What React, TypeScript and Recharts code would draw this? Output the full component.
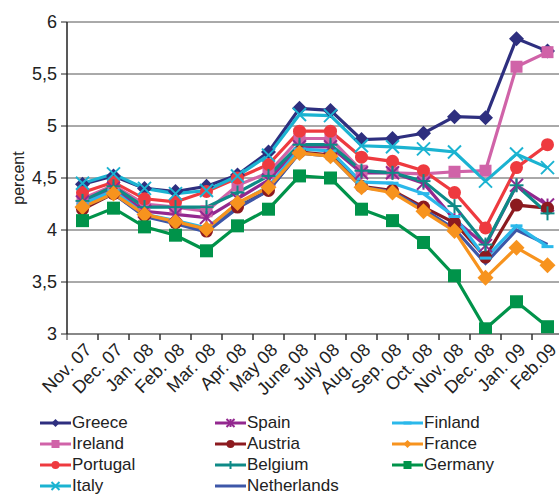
import React from 'react';
import { LineChart, Line, XAxis, YAxis, CartesianGrid } from 'recharts';

const months = [
  'Nov. 07', 'Dec. 07', 'Jan. 08', 'Feb. 08', 'Mar. 08', 'Apr. 08', 'May 08', 'June 08',
  'July 08', 'Aug. 08', 'Sep. 08', 'Oct. 08', 'Nov. 08', 'Dec. 08', 'Jan. 09', 'Feb.09',
];

const greece = [4.44, 4.52, 4.40, 4.37, 4.42, 4.53, 4.75, 5.17, 5.15, 4.87, 4.88, 4.93, 5.09, 5.08, 5.84, 5.72];
const ireland = [4.30, 4.43, 4.25, 4.22, 4.18, 4.43, 4.55, 4.88, 4.88, 4.57, 4.55, 4.54, 4.56, 4.57, 5.57, 5.71];
const portugal = [4.36, 4.46, 4.30, 4.27, 4.37, 4.50, 4.63, 4.95, 4.95, 4.70, 4.66, 4.57, 4.36, 4.02, 4.60, 4.82];
const italy = [4.45, 4.54, 4.40, 4.35, 4.38, 4.52, 4.72, 5.11, 5.10, 4.81, 4.80, 4.78, 4.75, 4.47, 4.73, 4.60];
const spain = [4.27, 4.40, 4.18, 4.15, 4.12, 4.30, 4.48, 4.80, 4.80, 4.55, 4.55, 4.45, 4.10, 3.85, 4.43, 4.24];
const austria = [4.20, 4.35, 4.14, 4.07, 3.99, 4.22, 4.38, 4.75, 4.72, 4.42, 4.38, 4.22, 4.07, 3.74, 4.24, 4.21];
const belgium = [4.28, 4.42, 4.22, 4.22, 4.22, 4.36, 4.52, 4.82, 4.82, 4.57, 4.55, 4.47, 4.23, 3.86, 4.43, 4.16];
const netherlands = [4.22, 4.35, 4.13, 4.06, 3.98, 4.21, 4.38, 4.74, 4.71, 4.41, 4.37, 4.20, 4.01, 3.68, 4.00, 3.86];
const finland = [4.25, 4.38, 4.15, 4.09, 4.02, 4.25, 4.42, 4.78, 4.76, 4.46, 4.45, 4.35, 4.13, 3.73, 4.04, 3.84];
const france = [4.22, 4.35, 4.15, 4.08, 4.01, 4.26, 4.41, 4.74, 4.71, 4.41, 4.36, 4.18, 3.99, 3.54, 3.83, 3.66];
const germany = [4.09, 4.21, 4.03, 3.95, 3.80, 4.04, 4.20, 4.52, 4.50, 4.20, 4.09, 3.88, 3.56, 3.05, 3.31, 3.07];

const yTicks = [3, 3.5, 4, 4.5, 5, 5.5, 6];

type Shape = 'diamond' | 'square' | 'circle' | 'x' | 'star' | 'plus' | 'none' | 'dash';

const series: { name: string; values: number[]; color: string; shape: Shape; size: number }[] = [
  { name: 'Greece', values: greece, color: '#2e2f7f', shape: 'diamond', size: 7.5 },
  { name: 'Ireland', values: ireland, color: '#d063a8', shape: 'square', size: 6 },
  { name: 'Portugal', values: portugal, color: '#ee3a3f', shape: 'circle', size: 6.5 },
  { name: 'Italy', values: italy, color: '#1bb3d1', shape: 'x', size: 6.5 },
  { name: 'Spain', values: spain, color: '#93288f', shape: 'star', size: 6.5 },
  { name: 'Austria', values: austria, color: '#8c1a1f', shape: 'circle', size: 6.5 },
  { name: 'Belgium', values: belgium, color: '#0e8a87', shape: 'plus', size: 7 },
  { name: 'Netherlands', values: netherlands, color: '#3d57a8', shape: 'none', size: 0 },
  { name: 'Finland', values: finland, color: '#2bb8ea', shape: 'dash', size: 6 },
  { name: 'France', values: france, color: '#f7931e', shape: 'diamond', size: 8 },
  { name: 'Germany', values: germany, color: '#00934a', shape: 'square', size: 6.5 },
];

const data = months.map((m, i) => {
  const row: Record<string, string | number> = { month: m };
  series.forEach((s) => {
    row[s.name] = s.values[i];
  });
  return row;
});

const FONT = '"Liberation Sans", Arial, Helvetica, sans-serif';

function Marker({ cx, cy, shape, size, color }: { cx: number; cy: number; shape: Shape; size: number; color: string }) {
  const s = size;
  switch (shape) {
    case 'diamond':
      return <polygon points={`${cx},${cy - s} ${cx + s},${cy} ${cx},${cy + s} ${cx - s},${cy}`} fill={color} />;
    case 'square':
      return <rect x={cx - s} y={cy - s} width={s * 2} height={s * 2} fill={color} />;
    case 'circle':
      return <circle cx={cx} cy={cy} r={s} fill={color} />;
    case 'x':
      return (
        <g stroke={color} strokeWidth={2}>
          <line x1={cx - s} y1={cy - s} x2={cx + s} y2={cy + s} />
          <line x1={cx - s} y1={cy + s} x2={cx + s} y2={cy - s} />
        </g>
      );
    case 'star':
      return (
        <g stroke={color} strokeWidth={2}>
          <line x1={cx - s} y1={cy - s} x2={cx + s} y2={cy + s} />
          <line x1={cx - s} y1={cy + s} x2={cx + s} y2={cy - s} />
          <line x1={cx} y1={cy - s} x2={cx} y2={cy + s} />
        </g>
      );
    case 'plus':
      return (
        <g stroke={color} strokeWidth={2}>
          <line x1={cx - s} y1={cy} x2={cx + s} y2={cy} />
          <line x1={cx} y1={cy - s} x2={cx} y2={cy + s} />
        </g>
      );
    case 'dash':
      return <line x1={cx - s} y1={cy} x2={cx + s} y2={cy} stroke={color} strokeWidth={3} />;
    default:
      return <g />;
  }
}

const MonthTick = (props: any) => {
  const { x, y, payload } = props;
  const half = 15.5;
  return (
    <g>
      <line x1={x - half} y1={y - 8} x2={x - half} y2={y - 2} stroke="#333" />
      <line x1={x + half} y1={y - 8} x2={x + half} y2={y - 2} stroke="#333" />
      <text
        x={x + 10}
        y={y + 9}
        textAnchor="end"
        transform={`rotate(-45 ${x + 10} ${y + 9})`}
        fontSize={18}
        fontFamily={FONT}
        fill="#222"
      >
        {payload.value}
      </text>
    </g>
  );
};

const legendCols = [
  ['Greece', 'Ireland', 'Portugal', 'Italy'],
  ['Spain', 'Austria', 'Belgium', 'Netherlands'],
  ['Finland', 'France', 'Germany'],
];
const colX = [40, 215, 392];
const rowY = [423, 444, 465, 486];

export default function App() {
  return (
    <div style={{ position: 'absolute', left: 0, top: 0, width: 559, height: 496, overflow: 'hidden', background: '#fff', fontFamily: FONT }}>
      <LineChart width={575} height={400} data={data} margin={{ top: 22, right: 12, bottom: 6, left: 10 }}>
        <CartesianGrid vertical={false} stroke="#555" strokeWidth={1} />
        <XAxis
          dataKey="month"
          interval={0}
          padding={{ left: 15.5, right: 15.5 }}
          tickLine={false}
          axisLine={{ stroke: '#888', strokeWidth: 2 }}
          tick={<MonthTick />}
          height={60}
        />
        <YAxis
          domain={[3, 6]}
          ticks={yTicks}
          allowDataOverflow
          width={57}
          tickSize={6}
          tickMargin={4}
          tickLine={{ stroke: '#222' }}
          axisLine={{ stroke: '#222', strokeWidth: 1.5 }}
          tickFormatter={(v: number) => String(v).replace('.', ',')}
          tick={{ fontSize: 18, fill: '#222', fontFamily: FONT }}
          label={{ value: 'percent', angle: -90, position: 'insideLeft', offset: 8, style: { textAnchor: 'middle', fontSize: 16, fill: '#222', fontFamily: FONT } }}
        />
        {series.map((s) => (
          <Line
            key={s.name}
            dataKey={s.name}
            stroke={s.color}
            strokeWidth={3.2}
            isAnimationActive={false}
            dot={(p: any) => (
              <Marker key={`${s.name}-${p.index}`} cx={p.cx} cy={p.cy} shape={s.shape} size={s.size} color={s.color} />
            )}
            activeDot={false}
          />
        ))}
      </LineChart>
      {legendCols.map((col, ci) =>
        col.map((name, ri) => {
          const s = series.find((q) => q.name === name)!;
          return (
            <div key={name} style={{ position: 'absolute', left: colX[ci], top: rowY[ri] - 11, height: 22, display: 'flex', alignItems: 'center' }}>
              <svg width={31} height={14} style={{ display: 'block' }}>
                <line x1={0} y1={7} x2={31} y2={7} stroke={s.color} strokeWidth={3} />
                <Marker cx={15.5} cy={7} shape={s.shape} size={s.shape === 'none' ? 0 : 4} color={s.color} />
              </svg>
              <span style={{ fontSize: 17, color: '#222', marginLeft: 1, lineHeight: '22px' }}>{name}</span>
            </div>
          );
        })
      )}
    </div>
  );
}
